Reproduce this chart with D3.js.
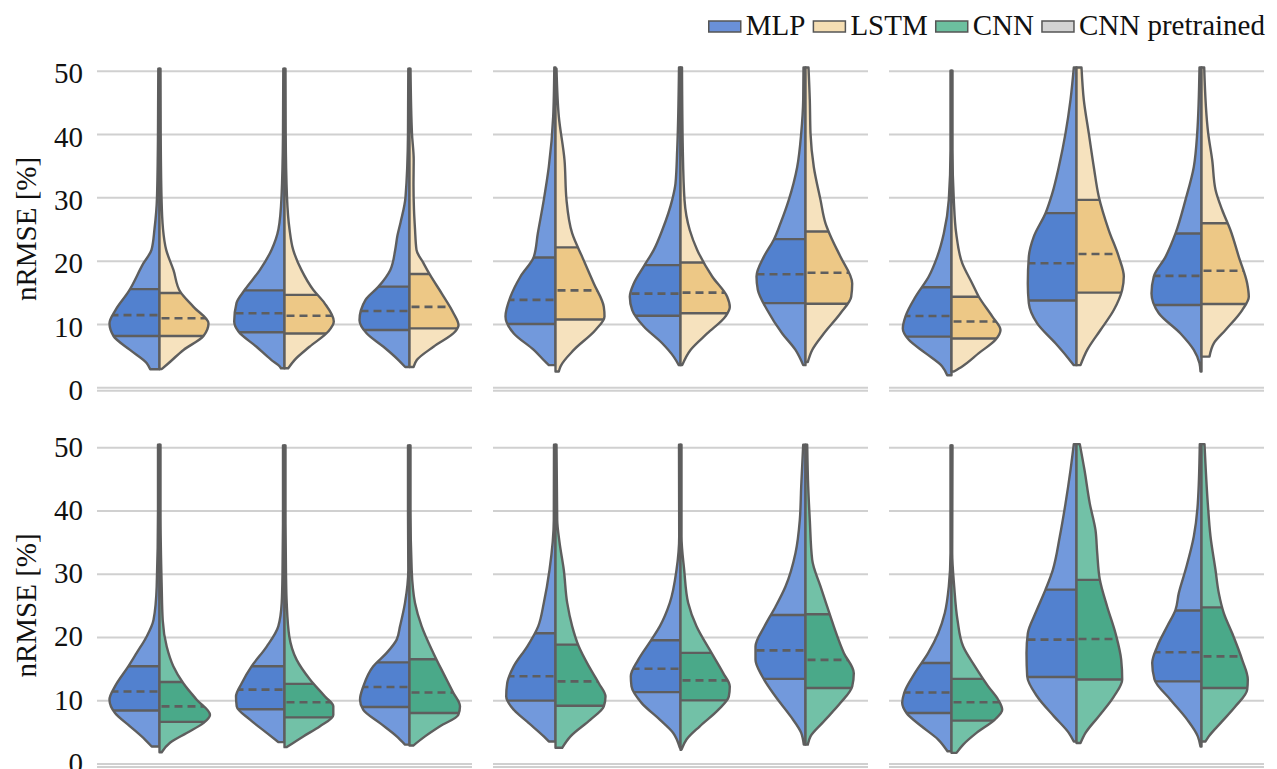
<!DOCTYPE html>
<html>
<head>
<meta charset="utf-8">
<script src="https://cdn.jsdelivr.net/npm/d3@7"></script>
<style>
  body { margin: 0; background: #fff; }
  text { font-family: "Liberation Serif", "Times New Roman", serif; fill: #111; }
</style>
</head>
<body>
<svg width="1277" height="769"></svg>
<script>
// ---- data ----
const models = ["MLP", "LSTM", "CNN", "CNN pretrained"];
const yTicks = [0, 10, 20, 30, 40, 50];

// violin half profiles: [nRMSE %, relative half-width (50 = widest)], 9 violins per row
const topMLP = [
  [[50.3,1.2],[40,1.5],[30,2.5],[25,5],[21.7,8],[19.6,16],[15.1,31],[12.2,44],[10.1,50],[8.1,46],[5.9,29.5],[3.8,12.7],[2.85,9.3]],
  [[50.3,1.2],[40,1.5],[30,3],[25,6],[21.7,13],[18.5,24.7],[15.4,39.7],[13.3,48],[10.4,50.3],[8.8,46],[6.4,28],[4.3,13],[3.3,4.7],[3.0,3.5]],
  [[50.3,1.2],[40,1.5],[30,4],[26,9],[24,12],[21.7,14.3],[18.5,19.3],[15.9,31],[13.8,44],[10.6,50],[8.5,42.7],[6.4,26],[4.3,11],[3.2,4.3]],
  [[50.5,1.2],[42.8,2.3],[34.8,6.7],[29.6,11.7],[24.3,17.7],[20.6,21.7],[17.5,35],[14.3,45],[11.2,50],[8.5,41.7],[5.9,21.7],[4.0,10],[3.5,6.7]],
  [[50.5,1.5],[37.5,3.3],[32.2,5],[29.6,8.3],[24.8,18.3],[21.7,26.7],[19.1,36.7],[16.4,46.7],[14.3,50.7],[12.2,48.3],[9.6,36.7],[6.95,18.3],[4.8,6.7],[3.5,1.7]],
  [[50.5,2],[45.4,2.3],[40.1,4.3],[34.8,8.3],[29.6,16.7],[25.9,25],[23.3,31.7],[20.6,41.7],[17.5,49],[15.4,47.7],[12.2,38.3],[8.5,23.3],[5.9,10],[3.5,2.3]],
  [[50,1],[37.5,1],[29.6,2.7],[24.3,7.7],[20.6,14.3],[17.5,22.7],[14.3,36],[11.2,46],[9.3,48.7],[7.5,42.7],[5.4,26],[3.3,9.3],[1.9,4.3]],
  [[50.5,2.7],[45.4,6],[40.1,11],[34.8,17.7],[30.6,24.3],[27.5,31],[23.8,42.7],[20.6,47.7],[16.4,48.7],[13.3,47.7],[10.1,39.3],[6.95,21],[4.8,9.3],[3.5,2.7]],
  [[50.5,2],[40.1,4.3],[34.8,7.7],[29.6,16],[24.3,26],[20.6,36],[17.5,47.7],[14.8,50],[11.7,42.7],[8.5,21],[5.9,7.7],[3.8,2],[2.5,1]]
];
const topLSTM = [
  [[50.3,1],[40,1.2],[30,2],[25,3.5],[21.7,6.7],[18.5,14],[15.1,20.7],[12.7,34],[10.1,49],[8.1,44],[5.9,24],[3.8,9],[2.9,2.3]],
  [[50.3,1],[40,1.2],[30,2.5],[25,5],[21.7,8.7],[18.5,17],[15.4,28.7],[13.3,40],[10.4,49.3],[8.8,43.7],[6.4,25],[4.3,10],[3.0,3.7]],
  [[50.3,1],[40,2.5],[36,4.2],[32,4],[28,4.5],[25,5.5],[21.7,7],[19.6,14],[17.7,20.7],[14.8,32.3],[11.7,44],[9.8,49],[8.8,45.7],[6.4,24],[4.3,7.3],[3.2,4]],
  [[50.3,1],[42.8,3.3],[35.9,9],[29.6,11],[24.3,16.7],[20.6,26.7],[16.4,38.3],[12.7,48.3],[11.2,49],[9.05,40],[5.9,18.3],[3.3,5],[2.5,3.3]],
  [[50.5,1.5],[37.5,2.3],[29.6,4],[24.8,9.3],[21.7,16.7],[17.5,31.7],[14.3,46.7],[12.7,49.3],[11.2,45],[8.5,26.7],[5.9,10],[3.5,1.7]],
  [[50.5,3],[45.4,4.3],[40.1,5],[34.8,8.3],[29.6,15],[25.9,20],[23.3,26.7],[20.6,35],[16.4,46.7],[14.3,45.7],[11.7,35],[8.5,18.3],[5.9,6.7],[4.0,2.3]],
  [[50,1],[37.5,1],[29.6,2.3],[24.3,4.7],[19.6,10.7],[16.4,20.7],[14.3,27.3],[11.2,40.7],[9.05,49],[7.5,44],[5.4,27.3],[3.3,10.7],[2.5,2.3]],
  [[50.5,5],[45.4,7.3],[40.1,12.3],[34.8,17.3],[30.1,22.3],[24.8,32.3],[20.6,42.3],[17.5,47.3],[15.4,45.7],[12.2,37.3],[9.05,24],[5.9,10.7],[3.5,4]],
  [[50.5,2.7],[40.1,6.7],[35.9,10.7],[31.2,14],[28,20.7],[24.8,29],[20.6,37.3],[16.4,45.7],[14.3,47.3],[12.2,40.7],[9.05,24],[6.95,12.3],[4.85,8]]
];
const botMLP = [
  [[50.4,1.5],[40,1.5],[28,2.8],[22.7,6],[20.1,12.8],[17.5,22.8],[15.4,31],[12.2,44.5],[10.1,50],[8.0,44.5],[5.9,29.5],[3.8,14.5],[2.7,7.8]],
  [[50.3,1.5],[40,1.5],[30,2],[25.4,2.8],[21.7,6.2],[18.5,17.8],[15.4,32.8],[12.7,42.8],[10.6,48.5],[9.05,47.8],[6.95,34.5],[4.85,17.8],[3.4,6.2]],
  [[50.3,1.5],[40,1.5],[30.6,1.2],[25.4,4.5],[21.7,9.5],[19.6,12.8],[17.5,22.8],[15.4,36.2],[12.2,46.2],[10.1,49.5],[8.5,46.2],[6.4,29.5],[4.3,12.8],[3.0,4.5]],
  [[50.4,1.5],[38.5,1.7],[30.6,6],[25.4,11.7],[21.7,17.3],[18.5,28.3],[15.4,41.7],[12.7,48.3],[10.6,49.3],[8.5,41.7],[6.4,26.7],[4.3,11.7],[3.5,6.7]],
  [[50.4,1.5],[35.9,1.3],[30.6,4],[25.4,10.7],[21.7,20.7],[19.6,29],[16.4,42.3],[13.8,49.7],[12.2,49],[9.6,39],[6.95,20.7],[4.85,7.3],[2.5,0.7]],
  [[50.4,2.3],[43.8,4.3],[38.5,5.7],[33.3,10],[28,20],[24.8,30],[21.7,41],[18.5,50],[16.4,50],[13.8,43.3],[10.6,30],[7.5,15],[4.85,4.3],[3.0,1.7]],
  [[50.3,1],[33.3,1],[28,2.7],[23.8,6.7],[20.6,13.3],[17.5,23.3],[14.3,36.7],[11.2,47.3],[9.6,49.3],[8.0,45],[5.9,30],[3.8,13.3],[1.95,4]],
  [[50.5,2.7],[46.4,6],[41.1,11],[35.9,16.7],[30.6,23.7],[27.5,31],[23.8,41],[20.6,48.7],[17.5,50],[13.8,49.3],[10.6,39.3],[7.5,22.7],[4.85,7.7],[3.5,2.7]],
  [[50.5,1.7],[41.1,3.7],[35.9,7.7],[30.6,16],[26.95,22.7],[24.3,26],[21.7,34.3],[18.5,44.3],[15.9,49.3],[13.3,47],[10.1,31],[6.95,14.3],[4.3,3.7],[2.7,1]]
];
const botCNN = [
  [[50.4,1],[40,1],[28,2.2],[22.7,3.2],[18.5,7.2],[15.4,13.8],[12.7,23.8],[10.1,37.2],[7.7,50.5],[6.4,43.8],[4.85,27.2],[3.3,10.5],[1.8,2.2]],
  [[50.3,1],[40,1],[30,1.5],[25.4,2.2],[20.1,4.8],[16.4,12.2],[13.3,25.5],[10.6,40.5],[9.05,48.8],[7.7,48.8],[5.9,35.5],[4.3,18.8],[2.6,2.2]],
  [[50.3,1],[40,1],[30.6,2.2],[25.4,5.5],[21.7,12.2],[17.5,23.8],[14.3,33.8],[11.2,43.8],[9.05,50.5],[7.7,48.8],[5.9,30.5],[4.3,15.5],[2.85,3.8]],
  [[50.4,1],[38.5,1.7],[35,4],[30.6,8.3],[25.4,11.7],[21.7,16.7],[18.5,23.3],[15.4,33.3],[12.7,43.3],[10.6,50],[9.05,48.3],[6.95,35],[4.3,15],[2.5,6.7]],
  [[50.4,1],[35.9,1],[30.6,3.7],[25.4,7.7],[21.7,16],[17.5,31],[14.3,42.7],[12.2,49.3],[10.6,48.3],[8.5,37.7],[5.9,19.3],[3.8,6],[2.2,1]],
  [[50.4,1.7],[43.8,2.7],[38.5,4.3],[32.2,6.7],[28,15],[24.8,21.7],[21.7,28.3],[17.5,38.3],[14.3,48.3],[12.2,46.7],[9.6,35],[6.4,16.7],[4.3,5],[3.0,2.3]],
  [[50.3,1],[33.3,0.7],[28,2.7],[22.7,6],[18.5,11.7],[15.4,23.3],[12.2,36.7],[10.1,46.7],[8.5,50.7],[6.95,43.3],[4.85,25],[3.0,11.7],[1.7,5]],
  [[50.5,3.3],[46.4,8],[41.1,13.3],[36.9,19],[33.3,20.7],[29.1,23.3],[24.8,30.7],[20.6,39],[16.4,44.7],[13.3,45.7],[10.6,37.3],[7.5,22.3],[4.85,9],[3.25,4]],
  [[50.5,3],[41.1,6.3],[35.9,9],[30.6,14],[26.95,17.3],[23.8,22.3],[20.6,30.7],[16.4,40.7],[13.3,46.3],[11.7,45.7],[9.05,34],[6.4,19],[4.3,7.3],[3.5,4]]
];

// [Q1, Q3, mean] per violin half
const topMLPStats = [[8.1,15.5,11.4],[8.7,15.3,11.7],[9.05,15.9,12.05],[10.0,20.5,13.8],[11.3,19.3,14.8],[13.3,23.4,17.85],[8.0,15.8,11.25],[13.7,27.5,19.6],[13.0,24.3,17.6]];
const topLSTMStats = [[8.1,14.9,10.9],[8.5,14.6,11.3],[9.3,17.9,12.7],[10.7,22.1,15.3],[11.7,19.7,14.95],[13.2,24.6,18.1],[7.7,14.3,10.4],[14.95,29.6,21.05],[13.15,25.9,18.4]];
const botMLPStats = [[8.4,15.4,11.4],[8.6,15.4,11.7],[8.95,16.0,12.1],[9.95,20.6,13.8],[11.3,19.5,15.0],[13.4,23.5,17.9],[8.0,15.9,11.25],[13.7,27.5,19.6],[13.0,24.2,17.6]];
const botCNNStats = [[6.6,12.9,9.05],[7.3,12.6,9.7],[8.0,16.5,11.25],[9.15,18.8,13.0],[10.0,17.5,13.15],[11.95,23.6,16.4],[6.8,13.4,9.7],[13.3,29.05,19.7],[11.95,24.7,16.95]];

// ---- styling ----
const colors = {
  MLP:  {dark: "#5281cf", light: "#7299dc", legend: "#6a90d8"},
  LSTM: {dark: "#edc886", light: "#f6e2be", legend: "#f5deb3"},
  CNN:  {dark: "#4aa989", light: "#72c1a7", legend: "#6cbf9f"},
  "CNN pretrained": {legend: "#d3d3d3"}
};
const lineCol = "#5e5e5e";
const gridCol = "#d0d0d0";

const svg = d3.select("svg");
const panelX = [[97, 472], [493, 868], [889, 1264]];
const rows = [
  {l: topMLP, r: topLSTM, ls: topMLPStats, rs: topLSTMStats, lm: "MLP", rm: "LSTM", range: [387.3, 70.7]},
  {l: botMLP, r: botCNN, ls: botMLPStats, rs: botCNNStats, lm: "MLP", rm: "CNN", range: [763.6, 447.3]}
];

let clipN = 0;

rows.forEach((row, ri) => {
  const y = d3.scaleLinear().domain([0, 50]).range(row.range);

  panelX.forEach((px, pi) => {
    const g = svg.append("g");
    const x = d3.scaleBand().domain([0, 1, 2]).range(px);
    const w = d3.scaleLinear().domain([0, 50]).range([0, x.bandwidth() * 0.4]);

    // grid
    const yAxis = d3.axisLeft(y).tickValues(yTicks).tickSize(-(px[1] - px[0])).tickFormat(pi === 0 ? d3.format("d") : "");
    const ag = g.append("g").attr("transform", `translate(${px[0]},0)`).call(yAxis);
    ag.select(".domain").remove();
    ag.selectAll(".tick line").attr("stroke", gridCol).attr("stroke-width", 2);
    ag.selectAll(".tick text").attr("x", -14).attr("dy", ri === 0 ? "0.42em" : "0.3em")
      .attr("font-size", 29).attr("fill", "#111")
      .attr("font-family", "Liberation Serif, serif");
    // bottom spine
    g.append("line").attr("x1", px[0]).attr("x2", px[1])
      .attr("y1", y(-0.55)).attr("y2", y(-0.55))
      .attr("stroke", gridCol).attr("stroke-width", 2);

    [0, 1, 2].forEach(vi => {
      const idx = pi * 3 + vi;
      const cx = x(vi) + x.bandwidth() / 2;
      const halves = [
        {prof: row.l[idx], st: row.ls[idx], m: row.lm, side: -1},
        {prof: row.r[idx], st: row.rs[idx], m: row.rm, side: 1}
      ];
      halves.forEach(h => {
        const pts = h.prof.slice().sort((a, b) => b[0] - a[0]);
        const area = d3.area()
          .y(d => y(d[0]))
          .x0(d => h.side < 0 ? cx - w(d[1]) : cx)
          .x1(d => h.side < 0 ? cx : cx + w(d[1]))
          .curve(d3.curveMonotoneY);
        const id = "clip" + (clipN++);
        svg.append("clipPath").attr("id", id).append("path").attr("d", area(pts));
        const xa = h.side < 0 ? cx - x.bandwidth() / 2 : cx;
        const vg = g.append("g").attr("clip-path", `url(#${id})`);
        vg.append("rect").attr("x", xa).attr("width", x.bandwidth() / 2)
          .attr("y", y(55)).attr("height", y(-2) - y(55)).attr("fill", colors[h.m].light);
        vg.append("rect").attr("x", xa).attr("width", x.bandwidth() / 2)
          .attr("y", y(h.st[1])).attr("height", y(h.st[0]) - y(h.st[1])).attr("fill", colors[h.m].dark);
        [h.st[0], h.st[1]].forEach(q => {
          vg.append("line").attr("x1", xa).attr("x2", xa + x.bandwidth() / 2)
            .attr("y1", y(q)).attr("y2", y(q)).attr("stroke", lineCol).attr("stroke-width", 2.4);
        });
        const mx1 = h.side < 0 ? cx - 2 : cx + 2;
        const mx2 = h.side < 0 ? cx - x.bandwidth() / 2 : cx + x.bandwidth() / 2;
        vg.append("line").attr("x1", mx1).attr("x2", mx2)
          .attr("y1", y(h.st[2])).attr("y2", y(h.st[2]))
          .attr("stroke", lineCol).attr("stroke-width", 2.6).attr("stroke-dasharray", "8,5");
        g.append("path").attr("d", area(pts)).attr("fill", "none")
          .attr("stroke", lineCol).attr("stroke-width", 2.4).attr("stroke-linejoin", "round");
      });
    });
  });

  const mid = (row.range[0] + row.range[1]) / 2;
  svg.append("text").attr("transform", `translate(36,${mid}) rotate(-90)`)
    .attr("text-anchor", "middle").attr("font-size", 29).text("nRMSE [%]");
});

// legend, right-aligned at top
const leg = svg.append("g");
let lx = 0;
models.forEach(m => {
  const it = leg.append("g").attr("transform", `translate(${lx},0)`);
  it.append("rect").attr("x", 0).attr("y", 21).attr("width", 32).attr("height", 11)
    .attr("fill", colors[m].legend).attr("stroke", "#555").attr("stroke-width", 1.5);
  const t = it.append("text").attr("x", 37).attr("y", 35).attr("font-size", 29).text(m);
  lx += 37 + t.node().getComputedTextLength() + 8;
});
leg.attr("transform", `translate(${1265 - (lx - 8)},0)`);
</script>
</body>
</html>
